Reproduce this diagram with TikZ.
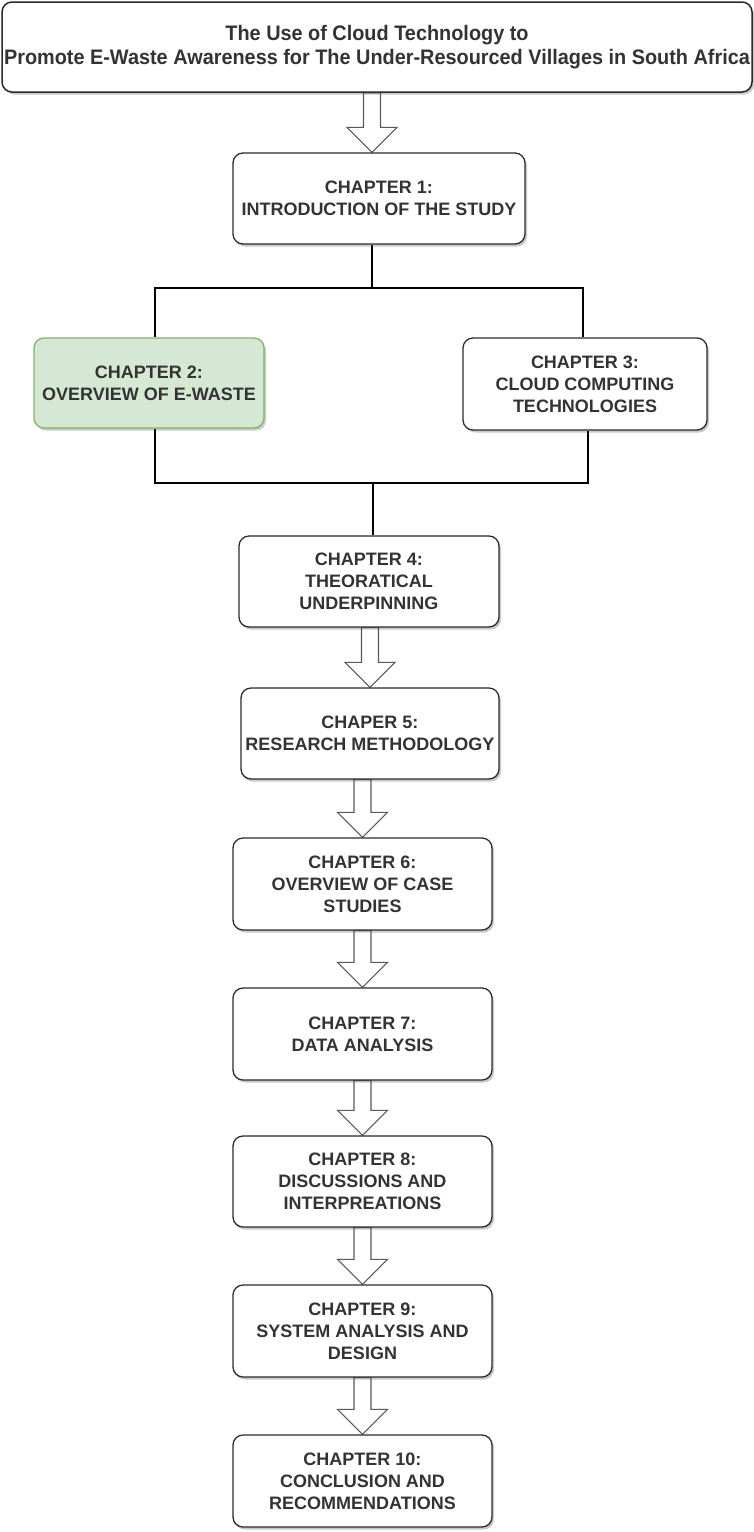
\documentclass[tikz,border=0pt]{standalone}
\usepackage{fontspec}
\setmainfont{Liberation Sans}
\newfontfamily\titlefont[FakeStretch=0.946]{Liberation Sans}
\usetikzlibrary{shadows,calc,backgrounds}
\definecolor{edge}{HTML}{2B2B2B}
\definecolor{txt}{HTML}{333333}
\definecolor{greenfill}{HTML}{D5E8D4}
\definecolor{greenedge}{HTML}{82B366}

\tikzset{
  chap/.style={draw=edge, line width=1.3pt, fill=white, rounded corners=10pt,
    align=center, text=txt, inner sep=2pt,
    font=\bfseries\fontsize{18}{22}\selectfont,
    drop shadow={shadow xshift=2pt, shadow yshift=-2.5pt, opacity=0.3, fill=black!70}},
  greenchap/.style={chap, fill=greenfill, draw=greenedge},
  titlebox/.style={chap, line width=1.5pt,
    font=\titlefont\bfseries\fontsize{21}{24}\selectfont},
  treeline/.style={draw=black, line width=2.2pt},
  blockarrow/.style={draw=black!65, line width=1.1pt, fill=white, line join=miter},
}

% hollow block arrow from the bottom of #1 to the top of #2, shifted by #3 along x
\newcommand\hollowarrow[3]{%
  \draw[blockarrow] let \p1=(#1.south), \p2=($(#2.north)+(#3,0)$) in
    (\x2-8.5pt,\y1) -- (\x2-8.5pt,\y2+25pt) -- (\x2-25pt,\y2+25pt) --
    (\x2,\y2) -- (\x2+25pt,\y2+25pt) -- (\x2+8.5pt,\y2+25pt) --
    (\x2+8.5pt,\y1) -- cycle;}

\begin{document}
\begin{tikzpicture}[x=1pt,y=-1pt]
\useasboundingbox (0,0) rectangle (754,1532);

% title and chapters
\node[titlebox, minimum width=750pt, minimum height=90pt] (title) at (377,47)
  {The Use of Cloud Technology to\\Promote E-Waste Awareness for The Under-Resourced Villages in South Africa};
\node[chap, minimum width=292pt, minimum height=91pt] (c1) at (379,198.5)
  {CHAPTER 1:\\INTRODUCTION OF THE STUDY};
\node[greenchap, minimum width=230pt, minimum height=90pt] (c2) at (149,383)
  {CHAPTER 2:\\OVERVIEW OF E-WASTE};
\node[chap, minimum width=244pt, minimum height=92pt] (c3) at (585,384)
  {CHAPTER 3:\\CLOUD COMPUTING\\TECHNOLOGIES};
\node[chap, minimum width=260pt, minimum height=91pt] (c4) at (369,581.5)
  {CHAPTER 4:\\THEORATICAL\\UNDERPINNING};
\node[chap, minimum width=258pt, minimum height=91pt] (c5) at (370,733.5)
  {CHAPER 5:\\RESEARCH METHODOLOGY};
\node[chap, minimum width=259pt, minimum height=92pt] (c6) at (362.5,884)
  {CHAPTER 6:\\OVERVIEW OF CASE\\STUDIES};
\node[chap, minimum width=259pt, minimum height=92pt] (c7) at (362.5,1034)
  {CHAPTER 7:\\DATA ANALYSIS};
\node[chap, minimum width=259pt, minimum height=91pt] (c8) at (362.5,1181.5)
  {CHAPTER 8:\\DISCUSSIONS AND\\INTERPREATIONS};
\node[chap, minimum width=259pt, minimum height=92pt] (c9) at (362.5,1331)
  {CHAPTER 9:\\SYSTEM ANALYSIS AND\\DESIGN};
\node[chap, minimum width=259pt, minimum height=92pt] (c10) at (362.5,1481)
  {CHAPTER 10:\\CONCLUSION AND\\RECOMMENDATIONS};

% branching lines around chapters 2 and 3
\coordinate (j1) at (372,288);
\coordinate (l1) at (155,288);
\coordinate (r1) at (583,288);
\coordinate (l2) at (155,483);
\coordinate (r2) at (588,483);
\coordinate (j2) at (373,483);

\begin{scope}[on background layer]
  \draw[treeline] (c1.south -| j1) -- (j1);
  \draw[treeline] (c2.north -| l1) -- (l1) -- (r1) -- (c3.north -| r1);
  \draw[treeline] (c2.south -| l2) -- (l2) -- (r2) -- (c3.south -| r2);
  \draw[treeline] (j2) -- (c4.north -| j2);

  \hollowarrow{title}{c1}{-7}
  \hollowarrow{c4}{c5}{0}
  \hollowarrow{c5}{c6}{0}
  \hollowarrow{c6}{c7}{0}
  \hollowarrow{c7}{c8}{0}
  \hollowarrow{c8}{c9}{0}
  \hollowarrow{c9}{c10}{0}
\end{scope}
\end{tikzpicture}
\end{document}
